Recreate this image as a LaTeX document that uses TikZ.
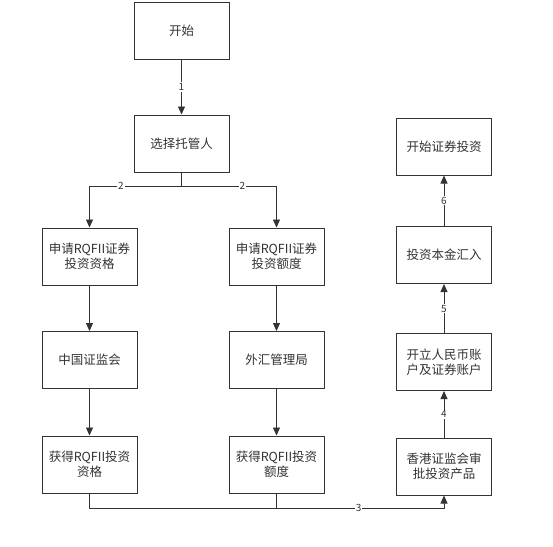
\documentclass[tikz,border=0pt]{standalone}
\usepackage{fontspec}
\setmainfont{Noto Sans CJK SC}
\usetikzlibrary{arrows.meta}
\begin{document}
\begin{tikzpicture}[x=1pt,y=-1pt,
  box/.style={draw=black!80,line width=1pt,minimum width=95pt,minimum height=57pt,align=center,inner sep=2pt,font=\fontsize{12.5pt}{15pt}\selectfont,text=black!80},
  conn/.style={draw=black!80,line width=0.9pt},
  arr/.style={conn,-{Triangle[length=8pt,width=7pt]}},
  lab/.style={fill=white,inner sep=1pt,font=\fontsize{10pt}{11pt}\selectfont,text=black!80}]
\useasboundingbox (0,0) rectangle (553,546);
\node[box] (start) at (181.5,30.5) {开始};
\node[box] (cust) at (181.5,143.5) {选择托管人};
\node[box] (aq) at (89.5,256.5) {申请RQFII证券\\投资资格};
\node[box] (aquota) at (276.5,256.5) {申请RQFII证券\\投资额度};
\node[box] (csrc) at (89.5,360) {中国证监会};
\node[box] (safe) at (276.5,360) {外汇管理局};
\node[box] (gq) at (89.5,464.5) {获得RQFII投资\\资格};
\node[box] (gquota) at (276.5,464.5) {获得RQFII投资\\额度};
\node[box] (hk) at (444,466.5) {香港证监会审\\批投资产品};
\node[box] (acct) at (444,362) {开立人民币账\\户及证券账户};
\node[box] (fund) at (444,255) {投资本金汇入};
\node[box] (inv) at (444,146.5) {开始证券投资};
\coordinate (split) at (181.5,186);
\coordinate (join) at (276.5,508);

\draw[arr] (start) -- node[lab]{1} (cust);
\draw[conn] (cust.south) -- (split);
\draw[arr] (split) -- node[lab,pos=0.66]{2} (split -| aq) -- (aq.north);
\draw[arr] (split) -- node[lab,pos=0.64]{2} (split -| aquota) -- (aquota.north);
\draw[arr] (aq) -- (csrc);
\draw[arr] (aquota) -- (safe);
\draw[arr] (csrc) -- (gq);
\draw[arr] (safe) -- (gquota);
\draw[conn] (gq.south) |- (join);
\draw[arr] (gquota.south) -- (join) -- node[lab,pos=0.49]{3} (join -| hk) -- (hk.south);
\draw[arr] (hk) -- node[lab]{4} (acct);
\draw[arr] (acct) -- node[lab]{5} (fund);
\draw[arr] (fund) -- node[lab]{6} (inv);
\end{tikzpicture}
\end{document}
